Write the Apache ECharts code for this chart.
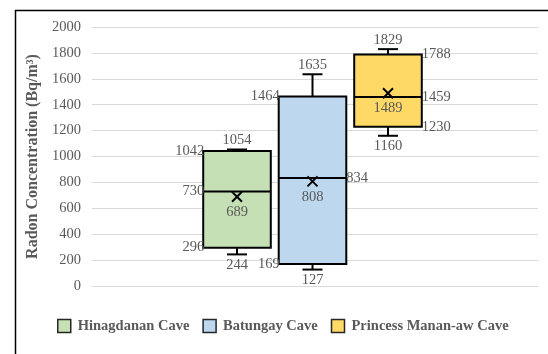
<!DOCTYPE html>
<html>
<head>
<meta charset="utf-8">
<script src="https://cdn.jsdelivr.net/npm/echarts@6/dist/echarts.min.js"></script>
<style>
html,body{margin:0;padding:0;background:#fff;}
#chart{width:548px;height:354px;}
</style>
</head>
<body>
<div id="chart"></div>
<script>
// ---- data ----
var categories = ['Hinagdanan Cave', 'Batungay Cave', 'Princess Manan-aw Cave'];
var minVals    = [244, 127, 1160];
var q1Vals     = [296, 169, 1230];
var medianVals = [730, 834, 1459];
var q3Vals     = [1042, 1464, 1788];
var maxVals    = [1054, 1635, 1829];
var meanVals   = [689, 808, 1489];
var yMin = 0, yMax = 2000, yInterval = 200;

// ---- style ----
var colors = ['#C5E0B4', '#BDD7EE', '#FFD966'];
// side on which the Q1 / median / Q3 labels sit
var labelSides = [
  {q1: 'left', med: 'left', q3: 'left'},
  {q1: 'left', med: 'right', q3: 'left'},
  {q1: 'right', med: 'right', q3: 'right'}
];
var FONT = 'Liberation Serif';
var TXT = '#595959';
var labelFont = '14.5px "' + FONT + '"';

function makeRender(idx) {
  return function (params, api) {
    var ci = api.value(0);
    var vMin = api.value(1), vQ1 = api.value(2), vMed = api.value(3),
        vQ3 = api.value(4), vMax = api.value(5), vMean = api.value(6);
    var cx = api.coord([ci, vMed])[0];
    var band = api.size([1, 0])[0];
    var bw = band * 0.895;
    var left = cx - bw / 2, right = cx + bw / 2;
    var y = function (v) { return api.coord([ci, v])[1]; };
    var yMinP = y(vMin), yQ1 = y(vQ1), yMed = y(vMed), yQ3 = y(vQ3), yMaxP = y(vMax), yMean = y(vMean);
    var cap = 10;
    var ls = {stroke: '#000', lineWidth: 2};
    var children = [];
    // whiskers
    children.push({type: 'line', shape: {x1: cx, y1: yQ3, x2: cx, y2: yMaxP}, style: ls});
    children.push({type: 'line', shape: {x1: cx - cap, y1: yMaxP, x2: cx + cap, y2: yMaxP}, style: ls});
    children.push({type: 'line', shape: {x1: cx, y1: yQ1, x2: cx, y2: yMinP}, style: ls});
    children.push({type: 'line', shape: {x1: cx - cap, y1: yMinP, x2: cx + cap, y2: yMinP}, style: ls});
    // box
    children.push({type: 'rect', shape: {x: left, y: yQ3, width: bw, height: yQ1 - yQ3},
      style: {fill: colors[idx], stroke: '#000', lineWidth: 2}});
    // median
    children.push({type: 'line', shape: {x1: left, y1: yMed, x2: right, y2: yMed}, style: ls});
    // mean X
    var m = 5;
    children.push({type: 'line', shape: {x1: cx - m, y1: yMean - m, x2: cx + m, y2: yMean + m}, style: ls});
    children.push({type: 'line', shape: {x1: cx - m, y1: yMean + m, x2: cx + m, y2: yMean - m}, style: ls});
    // labels
    function txt(text, x, yy, align) {
      children.push({type: 'text', x: x, y: yy,
        style: {text: String(text), font: labelFont, fill: TXT, align: align, verticalAlign: 'middle'}});
    }
    txt(vMax, cx, yMaxP - 9, 'center');
    txt(vMin, cx, yMinP + 10.5, 'center');
    txt(vMean, cx, yMean + 15.5, 'center');
    var s = labelSides[idx];
    txt(vQ3, s.q3 === 'left' ? left + 1 : right, yQ3, s.q3 === 'left' ? 'right' : 'left');
    txt(vQ1, s.q1 === 'left' ? left + 1 : right, yQ1, s.q1 === 'left' ? 'right' : 'left');
    txt(vMed, s.med === 'left' ? left + 1 : right, yMed, s.med === 'left' ? 'right' : 'left');
    return {type: 'group', children: children};
  };
}

var series = categories.map(function (name, i) {
  return {
    type: 'custom',
    name: name,
    xAxisIndex: 1,
    yAxisIndex: 1,
    itemStyle: {color: colors[i]},
    encode: {x: 0, y: [1, 2, 3, 4, 5, 6]},
    data: [[i, minVals[i], q1Vals[i], medianVals[i], q3Vals[i], maxVals[i], meanVals[i]]],
    renderItem: makeRender(i),
    z: 3
  };
});

var chart = echarts.init(document.getElementById('chart'), null, {renderer: 'canvas'});
chart.setOption({
  animation: false,
  backgroundColor: '#fff',
  graphic: [{
    type: 'rect', left: 13, top: 8, z: 100,
    shape: {x: 0, y: 0, width: 533.5, height: 360},
    style: {fill: 'none', stroke: '#000', lineWidth: 1.5}
  }],
  legend: {
    left: 57, top: 318.5, padding: 0,
    icon: 'rect', itemWidth: 13, itemHeight: 13, itemGap: 13,
    itemStyle: {borderColor: '#262626', borderWidth: 1.5},
    textStyle: {fontFamily: FONT, fontWeight: 'bold', fontSize: 14.5, color: TXT, padding: [0, 0, 0, 2]},
    data: categories
  },
  grid: [
    {left: 92, right: 10, top: 27, bottom: 68},
    {left: 199.25, right: 122.25, top: 27, bottom: 68}
  ],
  xAxis: [
    {type: 'category', gridIndex: 0, data: [''], axisLine: {show: false}, axisTick: {show: false}, axisLabel: {show: false}},
    {type: 'category', gridIndex: 1, data: categories, show: false}
  ],
  yAxis: [
    {
      type: 'value', gridIndex: 0, min: yMin, max: yMax, interval: yInterval,
      name: 'Radon Concentration (Bq/m³)', nameLocation: 'middle', nameGap: 49,
      nameTextStyle: {fontFamily: FONT, fontWeight: 'bold', fontSize: 16, color: TXT},
      axisLine: {show: false}, axisTick: {show: false},
      axisLabel: {fontFamily: FONT, fontSize: 14.5, color: TXT, margin: 11,
        formatter: function (v) { return String(v); }},
      splitLine: {show: true, lineStyle: {color: '#d9d9d9', width: 1}}
    },
    {type: 'value', gridIndex: 1, min: yMin, max: yMax, interval: yInterval, show: false, splitLine: {show: false}}
  ],
  series: series
});
</script>
</body>
</html>
